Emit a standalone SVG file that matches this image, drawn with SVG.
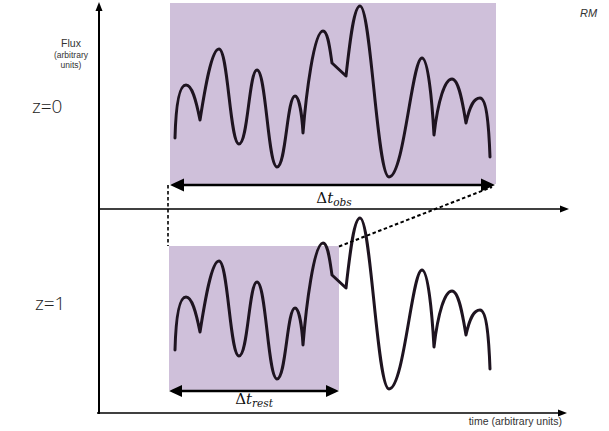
<svg xmlns="http://www.w3.org/2000/svg" width="609" height="431" viewBox="0 0 609 431">
<style>
.box{fill:#cfc0da}
.curve{fill:none;stroke:#1e1420;stroke-width:3;stroke-linecap:round;stroke-linejoin:round}
.axis{stroke:#000;fill:none}
.dash{stroke:#000;fill:none;stroke-dasharray:3.5 2.5}
.dbl{stroke:#000;stroke-width:2.5;fill:none}
.head{fill:#000}
.lbl{font-family:"Liberation Sans",Arial,sans-serif;fill:#333}
.z{font-family:"Open Sans","Liberation Sans",sans-serif;font-weight:300;fill:#222;font-size:19px}
.math{font-family:"DejaVu Serif","Liberation Serif",serif;fill:#111}
</style>
<defs>
<path id="lc" class="curve" d="M175,138 C176,100 180,85 186,85 C192,85 196,100 200,120 C204,95 211,49 219,49 C228,49 230,144 239,144 C248,144 249,70 257,70 C266,70 268,167 277,167 C286,167 287,96 295,96 C299,96 302,115 303,133 C306,95 314,31 323,31 C328,31 330,50 332,63 L346,76 C350,40 354,6 360,6 C371,6 377,177 389,177 C404,177 412,58 422,58 C428,58 432,100 434,135 C438,100 445,79 452,79 C459,79 463,105 466,123 C470,105 474,98 480,98 C487,98 489,130 490,157"/>
</defs>
<g id="obs-window">
<rect class="box" x="170" y="3" width="326" height="181"/>
</g>
<g id="rest-window">
<rect class="box" x="169" y="246" width="170" height="144"/>
</g>
<g id="curve-z0"><use href="#lc"/></g>
<g id="curve-z1"><use href="#lc" transform="translate(0,212)"/></g>
<g id="connectors">
<line class="axis" x1="99" y1="9" x2="99" y2="414" stroke-width="2"/>
<polygon class="head" points="99,2 95.5,11 102.5,11"/>
<line class="axis" x1="99" y1="209" x2="562" y2="209" stroke-width="1.5"/>
<polygon class="head" points="569,209 560,205.5 560,212.5"/>
<line class="axis" x1="97" y1="413" x2="560" y2="413" stroke-width="1.5"/>
<polygon class="head" points="567,413 558,409.5 558,416.5"/>
<line class="dash" x1="168" y1="185" x2="168" y2="246" stroke-width="1.6"/>
<line class="dash" x1="339" y1="246.5" x2="492" y2="187" stroke-width="2"/>
<line class="dbl" x1="180" y1="185" x2="484" y2="185"/>
<polygon class="head" points="170,185 184,178.5 184,191.5"/>
<polygon class="head" points="495,185 481,178.5 481,191.5"/>
<line class="dbl" x1="178" y1="391" x2="330" y2="391"/>
<polygon class="head" points="169,391 182,385 182,397"/>
<polygon class="head" points="339,391 326,385 326,397"/>
</g>
<g id="labels">
<text class="lbl" x="71" y="47" font-size="10.5" text-anchor="middle">Flux</text>
<text class="lbl" x="71" y="57.5" font-size="8.5" text-anchor="middle">(arbitrary</text>
<text class="lbl" x="71" y="67.5" font-size="8.5" text-anchor="middle">units)</text>
<text class="z" x="32" y="113">z=0</text>
<text class="z" x="35" y="310">z=1</text>
<text class="lbl" x="562" y="425" font-size="10.5" text-anchor="end">time (arbitrary units)</text>
<text class="math" x="334" y="203" font-size="15" text-anchor="middle">Δ<tspan font-style="italic">t</tspan><tspan font-style="italic" font-size="10.5" dy="3">obs</tspan></text>
<text class="math" x="254" y="404" font-size="15" text-anchor="middle">Δ<tspan font-style="italic">t</tspan><tspan font-style="italic" font-size="10.5" dy="3">rest</tspan></text>
<text class="lbl" x="580" y="17" font-size="11" font-style="italic" fill="#666">RM</text>
</g>
</svg>
